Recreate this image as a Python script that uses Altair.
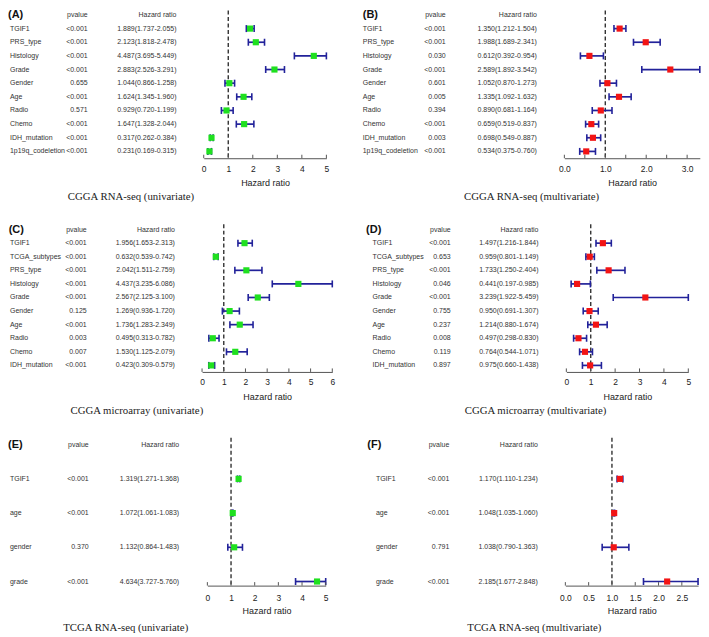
import altair as alt
import pandas as pd

# ---------------- data ----------------
A_vars = ["TGIF1", "PRS_type", "Histology", "Grade", "Gender", "Age", "Radio", "Chemo", "IDH_mutation", "1p19q_codeletion"]
A_p = ["<0.001", "<0.001", "<0.001", "<0.001", "0.655", "<0.001", "0.571", "<0.001", "<0.001", "<0.001"]
A_hr = [1.889, 2.123, 4.487, 2.883, 1.044, 1.624, 0.929, 1.647, 0.317, 0.231]
A_lo = [1.737, 1.818, 3.695, 2.526, 0.866, 1.345, 0.720, 1.328, 0.262, 0.169]
A_hi = [2.055, 2.478, 5.449, 3.291, 1.258, 1.960, 1.199, 2.044, 0.384, 0.315]

B_vars = ["TGIF1", "PRS_type", "Histology", "Grade", "Gender", "Age", "Radio", "Chemo", "IDH_mutation", "1p19q_codeletion"]
B_p = ["<0.001", "<0.001", "0.030", "<0.001", "0.601", "0.005", "0.394", "<0.001", "0.003", "<0.001"]
B_hr = [1.350, 1.988, 0.612, 2.589, 1.052, 1.335, 0.890, 0.659, 0.698, 0.534]
B_lo = [1.212, 1.689, 0.392, 1.892, 0.870, 1.092, 0.681, 0.519, 0.549, 0.375]
B_hi = [1.504, 2.341, 0.954, 3.542, 1.273, 1.632, 1.164, 0.837, 0.887, 0.760]

C_vars = ["TGIF1", "TCGA_subtypes", "PRS_type", "Histology", "Grade", "Gender", "Age", "Radio", "Chemo", "IDH_mutation"]
C_p = ["<0.001", "<0.001", "<0.001", "<0.001", "<0.001", "0.125", "<0.001", "0.003", "0.007", "<0.001"]
C_hr = [1.956, 0.632, 2.042, 4.437, 2.567, 1.269, 1.736, 0.495, 1.530, 0.423]
C_lo = [1.653, 0.539, 1.511, 3.235, 2.125, 0.936, 1.283, 0.313, 1.125, 0.309]
C_hi = [2.313, 0.742, 2.759, 6.086, 3.100, 1.720, 2.349, 0.782, 2.079, 0.579]

D_vars = ["TGIF1", "TCGA_subtypes", "PRS_type", "Histology", "Grade", "Gender", "Age", "Radio", "Chemo", "IDH_mutation"]
D_p = ["<0.001", "0.653", "<0.001", "0.046", "<0.001", "0.755", "0.237", "0.008", "0.119", "0.897"]
D_hr = [1.497, 0.959, 1.733, 0.441, 3.239, 0.950, 1.214, 0.497, 0.764, 0.975]
D_lo = [1.216, 0.801, 1.250, 0.197, 1.922, 0.691, 0.880, 0.298, 0.544, 0.660]
D_hi = [1.844, 1.149, 2.404, 0.985, 5.459, 1.307, 1.674, 0.830, 1.071, 1.438]

E_vars = ["TGIF1", "age", "gender", "grade"]
E_p = ["<0.001", "<0.001", "0.370", "<0.001"]
E_hr = [1.319, 1.072, 1.132, 4.634]
E_lo = [1.271, 1.061, 0.864, 3.727]
E_hi = [1.368, 1.083, 1.483, 5.760]

F_vars = ["TGIF1", "age", "gender", "grade"]
F_p = ["<0.001", "<0.001", "0.791", "<0.001"]
F_hr = [1.170, 1.048, 1.038, 2.185]
F_lo = [1.110, 1.035, 0.790, 1.677]
F_hi = [1.234, 1.060, 1.363, 2.848]

A_ticks = [0, 1, 2, 3, 4, 5]
B_ticks = [0, 0.5, 1, 1.5, 2, 2.5, 3]
C_ticks = [0, 1, 2, 3, 4, 5, 6]
D_ticks = [0, 1, 2, 3, 4, 5]
E_ticks = [0, 1, 2, 3, 4, 5]
F_ticks = [0, 0.5, 1, 1.5, 2, 2.5]

captions = ["CGGA RNA-seq (univariate)", "CGGA RNA-seq (multivariate)",
            "CGGA microarray (univariate)", "CGGA microarray (multivariate)",
            "TCGA RNA-seq (univariate)", "TCGA RNA-seq (multivariate)"]
letters = ["(A)", "(B)", "(C)", "(D)", "(E)", "(F)"]
ref_line = [1]

# ---------------- style / layout ----------------
SX, SY = 0.985, 0.98
W = 341
FONT = "Liberation Sans"
SERIF = "Liberation Serif"
LINE = "#22229a"
GREEN = "#1fe01f"
RED = "#f21414"
TXT = "#333333"

# all rows share one height in a grid; row domains set so rows sit where the reference has them
H = 148
ROWS = [
    dict(dom=[-0.33, 10.5], lp=6, tp=6, cap=39),
    dict(dom=[-0.4, 10.48], lp=6, tp=6, cap=39),
    dict(dom=[-0.2, 4.12], lp=8, tp=4, cap=42),
]


def panel(letter, caption, vars_, p, hr, lo, hi, ticks, color, cfg, rc):
    df = pd.DataFrame({"var": vars_, "p": p, "hr": hr, "lo": lo, "hi": hi})
    df["row"] = list(range(1, len(df) + 1))
    df["txt"] = [f"{a:.3f}({b:.3f}-{c:.3f})" for a, b, c in zip(hr, lo, hi)]
    head = pd.DataFrame({"row": [0]})
    tdf = pd.DataFrame({"t": ticks})
    rdf = pd.DataFrame({"ref": ref_line})

    dmax = cfg["dom"][1]
    xs = alt.Scale(domain=cfg["dom"], range=[cfg["rng"][0] * SX, cfg["rng"][1] * SX], nice=False, zero=False)
    ys = alt.Scale(domain=rc["dom"], reverse=True, nice=False, zero=False)
    ax = alt.Axis(values=cfg["lab"], ticks=False, tickSize=0, domainColor="#555555", domainWidth=1,
                  labelFont=FONT, labelFontSize=8.5, labelColor="#222222", labelPadding=rc["lp"],
                  labelExpr=cfg["lexpr"], labelFlush=False, labelOverlap=False, grid=False,
                  title="Hazard ratio", titleFont=FONT, titleFontSize=9, titleFontWeight="normal",
                  titleColor="#222222", titlePadding=rc["tp"])
    Y = alt.Y("row:Q", scale=ys, axis=None)

    base = alt.Chart(df).transform_calculate(
        hi_c=f"min(datum.hi, {dmax})", lo_c="max(datum.lo, 0)")

    dash = alt.Chart(rdf).mark_rule(color="#333333", strokeWidth=1.4, strokeDash=[4, 2.5]).encode(
        x=alt.X("ref:Q", scale=xs, axis=ax))
    bars = base.mark_rule(color=LINE, strokeWidth=1.7).encode(
        x=alt.X("lo_c:Q", scale=xs, axis=ax), x2="hi_c:Q", y=Y)
    cap_lo = base.mark_tick(orient="vertical", size=7, thickness=1.6, color=LINE, opacity=1).encode(
        x=alt.X("lo_c:Q", scale=xs, axis=ax), y=Y)
    cap_hi = base.mark_tick(orient="vertical", size=7, thickness=1.6, color=LINE, opacity=1).encode(
        x=alt.X("hi_c:Q", scale=xs, axis=ax), y=Y)
    boxes = base.mark_square(size=38, color=color, opacity=1, filled=True).encode(
        x=alt.X("hr:Q", scale=xs, axis=ax), y=Y)
    tickm = alt.Chart(tdf).mark_rule(color="#555555", strokeWidth=1).encode(
        x=alt.X("t:Q", scale=xs, axis=ax), y=alt.value(H - 3.5), y2=alt.value(H))

    tstyle = dict(font=FONT, fontSize=7, color=TXT, baseline="middle")
    lab = alt.Chart(df).mark_text(align="left", **tstyle).encode(
        x=alt.value(cfg["lx"] * SX), y=Y, text="var:N")
    pv = alt.Chart(df).mark_text(align="right", **tstyle).encode(
        x=alt.value(cfg["px"] * SX), y=Y, text="p:N")
    hrt = alt.Chart(df).mark_text(align="right", **tstyle).encode(
        x=alt.value(cfg["hx"] * SX), y=Y, text="txt:N")
    hp = alt.Chart(head).mark_text(align="right", text="pvalue", **tstyle).encode(
        x=alt.value(cfg["px"] * SX), y=Y)
    hh = alt.Chart(head).mark_text(align="right", text="Hazard ratio", **tstyle).encode(
        x=alt.value(cfg["hx"] * SX), y=Y)
    let = alt.Chart(head).mark_text(align="left", baseline="middle", text=letter, font=FONT,
                                    fontSize=11, fontWeight="bold", color="#111111").encode(
        x=alt.value(cfg["letx"] * SX), y=Y)
    capt = alt.Chart(head).mark_text(align="center", baseline="middle", text=caption, font=SERIF,
                                     fontSize=10.8, color="#222222").encode(
        x=alt.value(cfg["cx"] * SX), y=alt.value(H + rc["cap"]))

    return alt.layer(dash, bars, cap_lo, cap_hi, boxes, tickm, lab, pv, hrt, hp, hh, let, capt).properties(
        width=W, height=H)


INT = "format(datum.value, 'd')"
ONE = "format(datum.value, '.1f')"

cA = dict(letx=0, lx=2, px=81, hx=171.3, rng=[199, 323.7], dom=[0, 5], lab=A_ticks, lexpr=INT, cx=125)
cB = dict(letx=3.3, lx=3.3, px=87.7, hx=180.3, rng=[208.3, 346], dom=[0, 3.31], lab=[0, 1, 2, 3], lexpr=ONE, cx=175)
cC = dict(letx=0.7, lx=2, px=80, hx=169.7, rng=[197.3, 329.7], dom=[0, 6], lab=C_ticks, lexpr=INT, cx=131)
cD = dict(letx=6.7, lx=13.3, px=92.7, hx=182, rng=[210.3, 334.3], dom=[0, 5], lab=D_ticks, lexpr=INT, cx=179)
cE = dict(letx=0, lx=2, px=82, hx=174, rng=[202.7, 323], dom=[0, 5], lab=E_ticks, lexpr=INT, cx=119.7)
cF = dict(letx=8, lx=16.7, px=91.3, hx=181.3, rng=[209.3, 344.3], dom=[0, 2.85], lab=F_ticks, lexpr=ONE, cx=177.7)

pA = panel(letters[0], captions[0], A_vars, A_p, A_hr, A_lo, A_hi, A_ticks, GREEN, cA, ROWS[0])
pB = panel(letters[1], captions[1], B_vars, B_p, B_hr, B_lo, B_hi, B_ticks, RED, cB, ROWS[0])
pC = panel(letters[2], captions[2], C_vars, C_p, C_hr, C_lo, C_hi, C_ticks, GREEN, cC, ROWS[1])
pD = panel(letters[3], captions[3], D_vars, D_p, D_hr, D_lo, D_hi, D_ticks, RED, cD, ROWS[1])
pE = panel(letters[4], captions[4], E_vars, E_p, E_hr, E_lo, E_hi, E_ticks, GREEN, cE, ROWS[2])
pF = panel(letters[5], captions[5], F_vars, F_p, F_hr, F_lo, F_hi, F_ticks, RED, cF, ROWS[2])

chart = alt.concat(pA, pB, pC, pD, pE, pF, columns=2, spacing={"row": 66, "column": 11},
                   bounds="flush").properties(
    padding={"left": 0, "top": 0, "right": 0, "bottom": 0}, background="white"
).configure_view(stroke=None)

chart.save("out.html", embed_options={"renderer": "svg", "actions": False})
